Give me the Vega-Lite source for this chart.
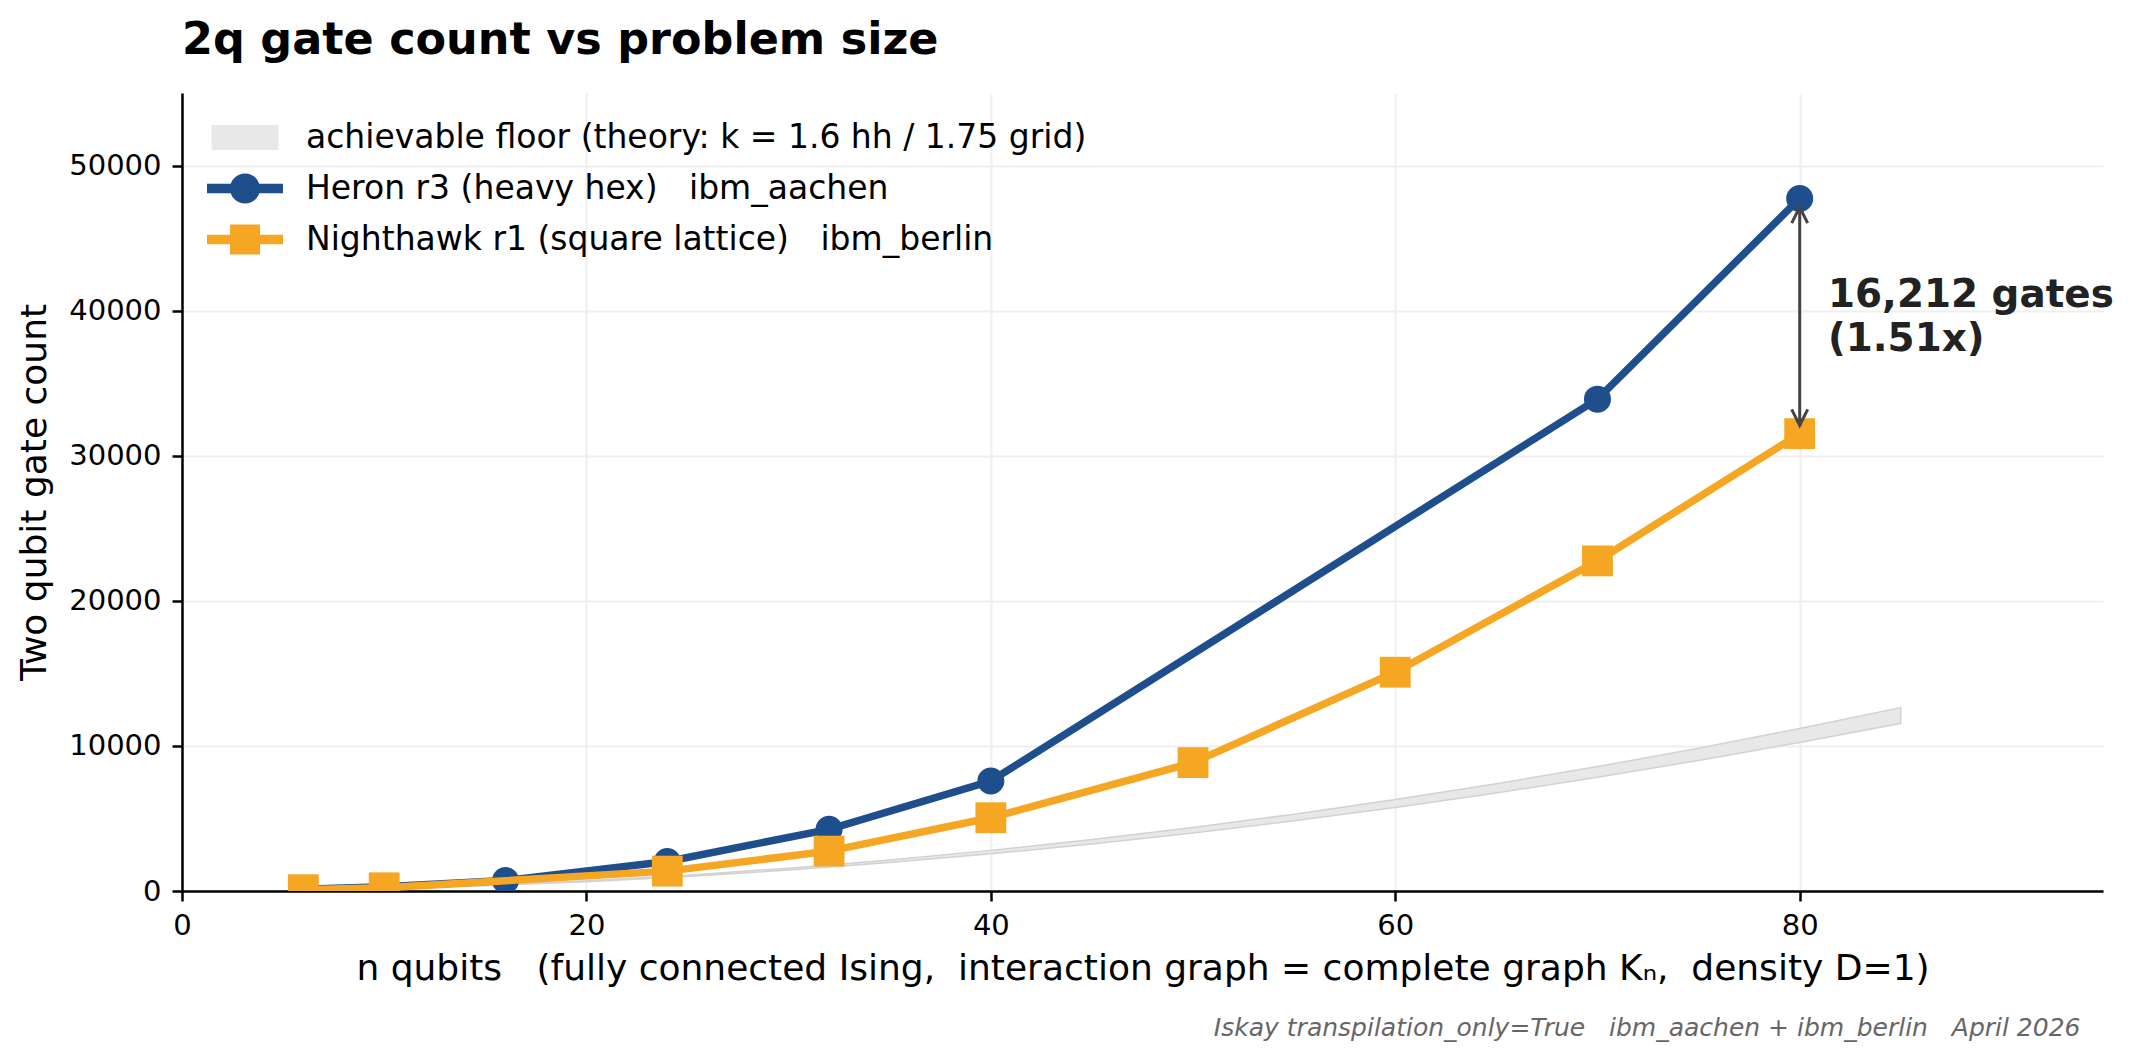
{
  "$schema": "https://vega.github.io/schema/vega-lite/v6.json",
  "width": 1921,
  "height": 798,
  "autosize": {"type": "none"},
  "padding": {"left": 182, "top": 93, "right": 31, "bottom": 170},
  "background": "white",
  "title": {
    "text": "2q gate count vs problem size",
    "anchor": "start",
    "frame": "group",
    "font": "DejaVu Sans",
    "fontSize": 44.5,
    "fontWeight": "bold",
    "color": "#000000",
    "offset": 30
  },
  "config": {
    "font": "DejaVu Sans",
    "view": {"stroke": null},
    "axis": {
      "domainColor": "#000000",
      "domainWidth": 2.5,
      "tickColor": "#000000",
      "tickWidth": 2.5,
      "tickSize": 10,
      "labelFont": "DejaVu Sans",
      "labelFontSize": 29,
      "labelColor": "#000000",
      "titleFont": "DejaVu Sans",
      "titleFontSize": 36,
      "titleFontWeight": "normal",
      "titleColor": "#000000",
      "gridColor": "#efefef",
      "gridWidth": 2
    },
    "legend": {
      "labelFont": "DejaVu Sans",
      "labelFontSize": 33,
      "labelColor": "#000000",
      "labelLimit": 1200
    }
  },
  "datasets": {
    "runs": [
      {"series": "heron", "n": 6, "gates": 120},
      {"series": "heron", "n": 10, "gates": 300},
      {"series": "heron", "n": 16, "gates": 720},
      {"series": "heron", "n": 24, "gates": 2030},
      {"series": "heron", "n": 32, "gates": 4250},
      {"series": "heron", "n": 40, "gates": 7580},
      {"series": "heron", "n": 70, "gates": 33900},
      {"series": "heron", "n": 80, "gates": 47732},
      {"series": "nighthawk", "n": 6, "gates": 90},
      {"series": "nighthawk", "n": 10, "gates": 220},
      {"series": "nighthawk", "n": 24, "gates": 1370},
      {"series": "nighthawk", "n": 32, "gates": 2750},
      {"series": "nighthawk", "n": 40, "gates": 5050},
      {"series": "nighthawk", "n": 50, "gates": 8850},
      {"series": "nighthawk", "n": 60, "gates": 15080},
      {"series": "nighthawk", "n": 70, "gates": 22750},
      {"series": "nighthawk", "n": 80, "gates": 31520}
    ],
    "floor": [
      {"n": 6, "lo": 58, "hi": 63},
      {"n": 10, "lo": 160, "hi": 175},
      {"n": 15, "lo": 360, "hi": 394},
      {"n": 20, "lo": 640, "hi": 700},
      {"n": 25, "lo": 1000, "hi": 1094},
      {"n": 30, "lo": 1440, "hi": 1575},
      {"n": 35, "lo": 1960, "hi": 2144},
      {"n": 40, "lo": 2560, "hi": 2800},
      {"n": 45, "lo": 3240, "hi": 3544},
      {"n": 50, "lo": 4000, "hi": 4375},
      {"n": 55, "lo": 4840, "hi": 5294},
      {"n": 60, "lo": 5760, "hi": 6300},
      {"n": 65, "lo": 6760, "hi": 7394},
      {"n": 70, "lo": 7840, "hi": 8575},
      {"n": 75, "lo": 9000, "hi": 9844},
      {"n": 80, "lo": 10240, "hi": 11200},
      {"n": 85, "lo": 11560, "hi": 12644}
    ],
    "arrow": [
      {"n": 80, "gates": 47130, "gates2": 32090}
    ],
    "heads": [
      {"n": 80, "gates": 47130, "dir": "up"},
      {"n": 80, "gates": 32090, "dir": "down"}
    ],
    "note": [
      {"n": 81.4, "gates": 40230, "label": "16,212 gates\n(1.51x)"}
    ]
  },
  "layer": [
    {
      "layer": [
        {
          "data": {"name": "floor"},
          "mark": {"type": "area", "color": "#e8e8e8", "stroke": "#d2d2d2", "strokeWidth": 1.5, "opacity": 1},
          "encoding": {
            "x": {
              "field": "n",
              "type": "quantitative",
              "scale": {"domain": [0, 95], "nice": false, "zero": false},
              "axis": {
                "values": [0, 20, 40, 60, 80],
                "format": "d",
                "labelFlush": false,
                "labelPadding": 10,
                "titlePadding": 11,
                "grid": true
              },
              "title": "n qubits\u00a0\u00a0 (fully connected Ising,\u00a0 interaction graph = complete graph Kₙ,\u00a0 density D=1)"
            },
            "y": {
              "field": "lo",
              "type": "quantitative",
              "scale": {"domain": [0, 55000], "nice": false},
              "axis": {
                "values": [0, 10000, 20000, 30000, 40000, 50000],
                "format": "d",
                "labelPadding": 11,
                "titlePadding": 15,
                "grid": true
              },
              "title": "Two qubit gate count"
            },
            "y2": {"field": "hi"}
          }
        },
        {
          "data": {"name": "runs"},
          "transform": [{"filter": "datum.series === 'heron'"}],
          "mark": {"type": "line", "color": "#1f4e8c", "strokeWidth": 7.5, "clip": true},
          "encoding": {
            "x": {"field": "n", "type": "quantitative", "scale": {"domain": [0, 95], "nice": false, "zero": false}},
            "y": {"field": "gates", "type": "quantitative", "scale": {"domain": [0, 55000], "nice": false}, "title": "Two qubit gate count"}
          }
        },
        {
          "data": {"name": "runs"},
          "transform": [{"filter": "datum.series === 'heron'"}],
          "mark": {"type": "point", "shape": "circle", "filled": true, "color": "#1f4e8c", "size": 730, "opacity": 1, "clip": true},
          "encoding": {
            "x": {"field": "n", "type": "quantitative"},
            "y": {"field": "gates", "type": "quantitative", "title": "Two qubit gate count"}
          }
        },
        {
          "data": {"name": "runs"},
          "transform": [{"filter": "datum.series === 'nighthawk'"}],
          "mark": {"type": "line", "color": "#f5a623", "strokeWidth": 7.5, "clip": true},
          "encoding": {
            "x": {"field": "n", "type": "quantitative"},
            "y": {"field": "gates", "type": "quantitative", "title": "Two qubit gate count"}
          }
        },
        {
          "data": {"name": "runs"},
          "transform": [{"filter": "datum.series === 'nighthawk'"}],
          "mark": {"type": "point", "shape": "square", "filled": true, "color": "#f5a623", "size": 950, "opacity": 1, "clip": true},
          "encoding": {
            "x": {"field": "n", "type": "quantitative"},
            "y": {"field": "gates", "type": "quantitative", "title": "Two qubit gate count"}
          }
        },
        {
          "data": {"name": "arrow"},
          "mark": {"type": "rule", "color": "#444444", "strokeWidth": 3},
          "encoding": {
            "x": {"field": "n", "type": "quantitative"},
            "y": {"field": "gates", "type": "quantitative", "title": "Two qubit gate count"},
            "y2": {"field": "gates2"}
          }
        },
        {
          "data": {"name": "heads"},
          "mark": {"type": "point", "filled": false, "color": "#444444", "strokeWidth": 3, "size": 256, "opacity": 1},
          "encoding": {
            "x": {"field": "n", "type": "quantitative"},
            "y": {"field": "gates", "type": "quantitative", "title": "Two qubit gate count"},
            "shape": {
              "condition": {"test": "datum.dir === 'up'", "value": "M-1,2L0,0L1,2"},
              "value": "M-1,-2L0,0L1,-2"
            }
          }
        },
        {
          "data": {"name": "note"},
          "mark": {
            "type": "text",
            "align": "left",
            "baseline": "alphabetic",
            "lineBreak": "\n",
            "lineHeight": 43.5,
            "font": "DejaVu Sans",
            "fontSize": 38.9,
            "fontWeight": "bold",
            "color": "#222222"
          },
          "encoding": {
            "x": {"field": "n", "type": "quantitative"},
            "y": {"field": "gates", "type": "quantitative", "title": "Two qubit gate count"},
            "text": {"field": "label"}
          }
        },
        {
          "data": {"values": []},
          "mark": {"type": "point", "filled": true, "opacity": 1},
          "encoding": {
            "color": {
              "field": "series",
              "type": "nominal",
              "scale": {
                "domain": [
                  "achievable floor (theory: k = 1.6 hh / 1.75 grid)",
                  "Heron r3 (heavy hex)\u00a0\u00a0 ibm_aachen",
                  "Nighthawk r1 (square lattice)\u00a0\u00a0 ibm_berlin"
                ],
                "range": ["#e8e8e8", "#1f4e8c", "#f5a623"]
              },
              "legend": {
                "title": null,
                "orient": "none",
                "legendX": 38,
                "legendY": 19.5,
                "padding": 0,
                "rowPadding": 9,
                "symbolSize": 2500,
                "labelOffset": 36,
                "symbolStrokeWidth": 0,
                "symbolOpacity": 1
              }
            },
            "shape": {
              "field": "series",
              "type": "nominal",
              "scale": {
                "domain": [
                  "achievable floor (theory: k = 1.6 hh / 1.75 grid)",
                  "Heron r3 (heavy hex)\u00a0\u00a0 ibm_aachen",
                  "Nighthawk r1 (square lattice)\u00a0\u00a0 ibm_berlin"
                ],
                "range": [
                  "M-1.34,-0.5L1.34,-0.5L1.34,0.5L-1.34,0.5Z",
                  "M-1.52,-0.19L1.52,-0.19L1.52,0.19L-1.52,0.19Z M0.6,0A0.6,0.6,0,1,1,-0.6,0A0.6,0.6,0,1,1,0.6,0Z",
                  "M-1.52,-0.19L1.52,-0.19L1.52,0.19L-1.52,0.19Z M-0.6,-0.6L0.6,-0.6L0.6,0.6L-0.6,0.6Z"
                ]
              },
              "legend": {
                "title": null,
                "orient": "none",
                "legendX": 38,
                "legendY": 19.5,
                "padding": 0,
                "rowPadding": 9,
                "symbolSize": 2500,
                "labelOffset": 36,
                "symbolStrokeWidth": 0,
                "symbolOpacity": 1
              }
            }
          }
        }
      ]
    },
    {
      "data": {"values": []},
      "mark": {"type": "point", "opacity": 0},
      "encoding": {
        "x": {
          "field": "n",
          "type": "quantitative",
          "axis": {
            "orient": "bottom",
            "domain": false,
            "ticks": false,
            "labels": false,
            "grid": false,
            "title": "Iskay transpilation_only=True\u00a0\u00a0 ibm_aachen + ibm_berlin\u00a0\u00a0 April 2026",
            "titleFontSize": 25,
            "titleFontStyle": "italic",
            "titleFontWeight": "normal",
            "titleColor": "#666666",
            "titleAlign": "right",
            "titleBaseline": "alphabetic",
            "titleX": 1898,
            "titleY": 144
          }
        }
      }
    }
  ],
  "resolve": {"axis": {"x": "independent"}}
}
